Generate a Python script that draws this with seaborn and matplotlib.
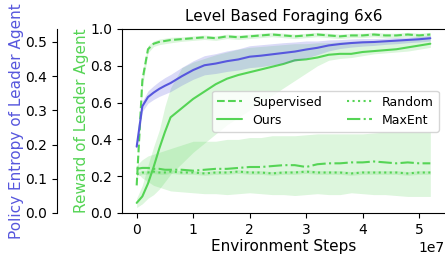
import numpy as np
import pandas as pd
import matplotlib
matplotlib.use("Agg")
import matplotlib.pyplot as plt
import seaborn as sns

# environment steps (x 1e7)
steps = [0, 0.1, 0.2, 0.3, 0.4, 0.5, 0.6, 0.8, 1.0, 1.2, 1.4, 1.6, 1.8, 2.0, 2.2,
         2.4, 2.6, 2.8, 3.0, 3.2, 3.4, 3.6, 3.8, 4.0, 4.2, 4.4, 4.6, 4.8, 5.0, 5.2]

supervised_mean = [0.15, 0.72, 0.89, 0.92, 0.93, 0.935, 0.94, 0.945, 0.95, 0.955, 0.95, 0.96, 0.955, 0.96,
                   0.965, 0.97, 0.965, 0.96, 0.965, 0.97, 0.965, 0.96, 0.965, 0.965, 0.97, 0.965, 0.965,
                   0.97, 0.965, 0.97]
supervised_err = [0.02, 0.04, 0.02, 0.015, 0.015, 0.015, 0.015, 0.012, 0.012, 0.012, 0.012, 0.012, 0.012,
                  0.012, 0.012, 0.012, 0.012, 0.012, 0.012, 0.012, 0.012, 0.012, 0.012, 0.012, 0.012,
                  0.012, 0.012, 0.012, 0.012, 0.012]

ours_mean = [0.055, 0.09, 0.16, 0.25, 0.35, 0.44, 0.52, 0.57, 0.62, 0.66, 0.70, 0.73, 0.75, 0.765,
             0.78, 0.795, 0.81, 0.83, 0.835, 0.845, 0.86, 0.865, 0.865, 0.875, 0.88, 0.885, 0.89,
             0.90, 0.91, 0.92]
ours_low = [0.03, 0.05, 0.08, 0.10, 0.13, 0.17, 0.21, 0.27, 0.33, 0.38, 0.43, 0.48, 0.52, 0.56, 0.60,
            0.64, 0.68, 0.72, 0.76, 0.80, 0.83, 0.84, 0.845, 0.855, 0.865, 0.87, 0.875, 0.88, 0.89, 0.90]
ours_high = [0.08, 0.15, 0.26, 0.36, 0.45, 0.58, 0.68, 0.79, 0.82, 0.84, 0.86, 0.875, 0.89, 0.90, 0.905,
             0.91, 0.915, 0.92, 0.92, 0.925, 0.925, 0.93, 0.93, 0.935, 0.935, 0.94, 0.94, 0.945,
             0.95, 0.95]

random_mean = [0.21, 0.22, 0.22, 0.225, 0.22, 0.22, 0.225, 0.22, 0.22, 0.215, 0.22, 0.22, 0.225, 0.22,
               0.22, 0.215, 0.22, 0.22, 0.225, 0.22, 0.22, 0.22, 0.215, 0.22, 0.22, 0.22, 0.22, 0.215,
               0.22, 0.22]

maxent_mean = [0.24, 0.245, 0.245, 0.24, 0.24, 0.235, 0.235, 0.235, 0.23, 0.235, 0.24, 0.24, 0.245,
               0.25, 0.25, 0.255, 0.26, 0.26, 0.25, 0.265, 0.27, 0.27, 0.275, 0.275, 0.28, 0.275,
               0.27, 0.275, 0.27, 0.27]
maxent_low = [0.22, 0.19, 0.17, 0.15, 0.14, 0.13, 0.12, 0.115, 0.11, 0.105, 0.105, 0.1, 0.105, 0.11,
              0.105, 0.1, 0.1, 0.095, 0.1, 0.105, 0.1, 0.1, 0.11, 0.105, 0.1, 0.1, 0.095, 0.09, 0.09, 0.09]
maxent_high = [0.26, 0.29, 0.31, 0.32, 0.33, 0.34, 0.35, 0.37, 0.39, 0.39, 0.39, 0.40, 0.40, 0.41,
               0.41, 0.42, 0.42, 0.42, 0.425, 0.43, 0.43, 0.43, 0.43, 0.43, 0.435, 0.44, 0.44, 0.44,
               0.44, 0.44]

# policy entropy of leader agent (drawn on the second axis)
entropy_mean = [0.194, 0.312, 0.339, 0.352, 0.363, 0.372, 0.380, 0.400, 0.418, 0.432, 0.437, 0.444,
                0.449, 0.457, 0.460, 0.464, 0.468, 0.472, 0.478, 0.483, 0.490, 0.494, 0.497, 0.499,
                0.500, 0.502, 0.504, 0.506, 0.508, 0.511]
entropy_err = [0.01, 0.015, 0.018, 0.02, 0.022, 0.024, 0.025, 0.026, 0.027, 0.028, 0.029, 0.03, 0.031,
               0.032, 0.032, 0.031, 0.03, 0.028, 0.025, 0.02, 0.016, 0.013, 0.012, 0.011, 0.01,
               0.009, 0.009, 0.008, 0.008, 0.008]

green = "#55d455"
blue = "#5757dd"

sns.set_style("ticks", {"axes.edgecolor": "black", "text.color": "black",
                        "xtick.color": "black", "ytick.color": "black",
                        "axes.labelcolor": "black"})
plt.rcParams["font.family"] = ["DejaVu Sans"]

x = np.array(steps) * 1e7
df = pd.DataFrame({"steps": x, "Supervised": supervised_mean, "Ours": ours_mean,
                   "Random": random_mean, "MaxEnt": maxent_mean, "entropy": entropy_mean})

fig = plt.figure(figsize=(4.45, 2.54), dpi=100)
ax = fig.add_axes([122 / 445, 41 / 254, 323 / 445, 184 / 254])

sup = np.array(supervised_mean)
ax.fill_between(x, sup - np.array(supervised_err), sup + np.array(supervised_err), color=green, alpha=0.2, lw=0)
ax.fill_between(x, ours_low, ours_high, color=green, alpha=0.2, lw=0)
rnd = np.array(random_mean)
ax.fill_between(x, rnd - 0.01, rnd + 0.01, color=green, alpha=0.2, lw=0)
ax.fill_between(x, maxent_low, maxent_high, color=green, alpha=0.2, lw=0)

sns.lineplot(data=df, x="steps", y="Supervised", ax=ax, color=green, linestyle="--", lw=1.5, label="Supervised")
sns.lineplot(data=df, x="steps", y="Ours", ax=ax, color=green, linestyle="-", lw=1.5, label="Ours")
sns.lineplot(data=df, x="steps", y="Random", ax=ax, color=green, linestyle=":", lw=1.5, label="Random")
sns.lineplot(data=df, x="steps", y="MaxEnt", ax=ax, color=green, linestyle="-.", lw=1.5, label="MaxEnt")

ax.set_ylim(0, 1.0)
ax.set_xlabel("Environment Steps", fontsize=11, labelpad=2)
ax.set_ylabel("Reward of Leader Agent", color=green, fontsize=11, labelpad=1)
ax.set_title("Level Based Foraging 6x6", fontsize=11)
ax.spines["right"].set_visible(False)
ax.legend(ncol=2, loc="center right", bbox_to_anchor=(1.0, 0.554), fontsize=9,
          handlelength=2.0, columnspacing=2.0, labelspacing=0.4)

ax2 = ax.twinx()
ent = np.array(entropy_mean)
ax2.fill_between(x, ent - np.array(entropy_err), ent + np.array(entropy_err), color=blue, alpha=0.22, lw=0)
sns.lineplot(data=df, x="steps", y="entropy", ax=ax2, color=blue, lw=1.5)
ax2.set_ylim(0, 0.538)
ax2.spines["left"].set_position(("outward", 47))
ax2.yaxis.set_label_position("left")
ax2.yaxis.set_ticks_position("left")
ax2.set_yticks([0.0, 0.1, 0.2, 0.3, 0.4, 0.5])
ax2.set_ylabel("Policy Entropy of Leader Agent", color=blue, fontsize=11, labelpad=1)
for s in ["right", "top", "bottom"]:
    ax2.spines[s].set_visible(False)
ax2.spines["left"].set_visible(True)

fig.savefig("out.png", dpi=100)
